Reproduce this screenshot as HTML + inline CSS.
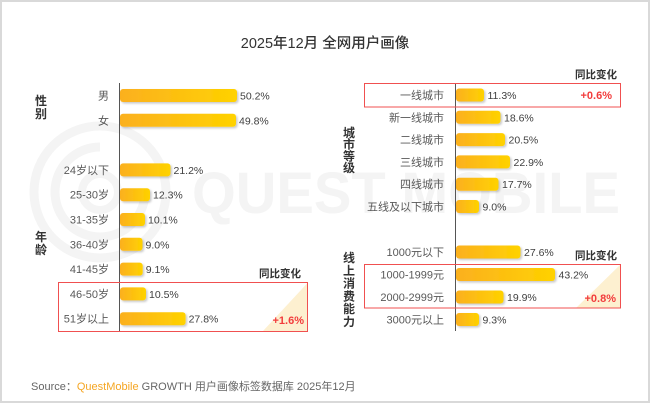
<!DOCTYPE html>
<html><head><meta charset="utf-8"><style>
html,body{margin:0;padding:0;background:#fff;}
svg{display:block;}
text{font-family:"Liberation Sans","Noto Sans CJK SC",sans-serif;}
.lb{font-size:11px;fill:#595959;text-anchor:end;}
.vl{font-size:10.5px;fill:#404040;}
.cat{font-size:12px;fill:#333;font-weight:bold;text-anchor:middle;}
.yoy{font-size:10.5px;fill:#333;font-weight:bold;text-anchor:end;}
.red{font-size:11px;fill:#f23c3c;font-weight:bold;text-anchor:end;}
</style></head><body>
<svg width="650" height="403" viewBox="0 0 650 403" xmlns="http://www.w3.org/2000/svg">
<defs>
<linearGradient id="g" x1="0" y1="0" x2="1" y2="0">
<stop offset="0" stop-color="#fbb01f"/><stop offset="1" stop-color="#ffd200"/>
</linearGradient>
<filter id="sh" x="-10%" y="-30%" width="130%" height="180%">
<feDropShadow dx="1.5" dy="1.5" stdDeviation="1" flood-color="#000" flood-opacity="0.22"/>
</filter>
</defs>
<rect x="0" y="0" width="650" height="403" fill="#fff"/>
<rect x="1" y="1" width="648" height="401" fill="none" stroke="#d9d9d9" stroke-width="2"/>
<!-- watermark -->
<g fill="none" stroke="#f4f4f4">
<circle cx="100" cy="192" r="66" stroke-width="9"/>
<path d="M100 147 A45 45 0 1 0 145 192" stroke-width="9"/>
<circle cx="100" cy="192" r="18" stroke-width="8"/>
</g>
<text x="192" y="213" font-size="58" font-weight="bold" fill="#f4f4f4" textLength="428" lengthAdjust="spacingAndGlyphs">QUEST MOBILE</text>

<text x="325" y="48" font-size="14.5" fill="#333" text-anchor="middle" font-weight="500">2025年12月 全网用户画像</text>

<!-- left axis -->
<line x1="119.5" y1="83" x2="119.5" y2="332" stroke="#555" stroke-width="1"/>
<g filter="url(#sh)" fill="url(#g)">
<rect x="120" y="89" width="117" height="13" rx="3"/>
<rect x="120" y="113.8" width="116" height="13" rx="3"/>
<rect x="120" y="163.4" width="50.5" height="13" rx="3"/>
<rect x="120" y="188.2" width="30" height="13" rx="3"/>
<rect x="120" y="213" width="25" height="13" rx="3"/>
<rect x="120" y="237.8" width="22.5" height="13" rx="3"/>
<rect x="120" y="262.6" width="22.7" height="13" rx="3"/>
<rect x="120" y="287.4" width="26" height="13" rx="3"/>
<rect x="120" y="312.2" width="65.6" height="13" rx="3"/>
</g>
<text class="lb" x="109" y="99.5">男</text>
<text class="lb" x="109" y="124.3">女</text>
<text class="lb" x="109" y="173.9">24岁以下</text>
<text class="lb" x="109" y="198.7">25-30岁</text>
<text class="lb" x="109" y="223.5">31-35岁</text>
<text class="lb" x="109" y="248.3">36-40岁</text>
<text class="lb" x="109" y="273.1">41-45岁</text>
<text class="lb" x="109" y="297.9">46-50岁</text>
<text class="lb" x="109" y="322.7">51岁以上</text>
<text class="vl" x="240" y="99.5">50.2%</text>
<text class="vl" x="239" y="124.3">49.8%</text>
<text class="vl" x="173.5" y="173.9">21.2%</text>
<text class="vl" x="153" y="198.7">12.3%</text>
<text class="vl" x="148" y="223.5">10.1%</text>
<text class="vl" x="145.5" y="248.3">9.0%</text>
<text class="vl" x="145.7" y="273.1">9.1%</text>
<text class="vl" x="149" y="297.9">10.5%</text>
<text class="vl" x="188.6" y="322.7">27.8%</text>
<text class="cat" x="41" y="105">性</text>
<text class="cat" x="41" y="118">别</text>
<text class="cat" x="41" y="241">年</text>
<text class="cat" x="41" y="254">龄</text>
<polygon points="263,331 307.5,283 307.5,331" fill="#fdf0d0"/>
<rect x="58.5" y="282.5" width="249" height="49" fill="none" stroke="#f05050" stroke-width="1"/>
<text class="yoy" x="301" y="277">同比变化</text>
<text class="red" x="304" y="324">+1.6%</text>

<!-- right axis -->
<line x1="455.5" y1="83" x2="455.5" y2="331" stroke="#555" stroke-width="1"/>
<g filter="url(#sh)" fill="url(#g)">
<rect x="456" y="88.5" width="28" height="13" rx="3"/>
<rect x="456" y="110.8" width="44.5" height="13" rx="3"/>
<rect x="456" y="133.1" width="49" height="13" rx="3"/>
<rect x="456" y="155.4" width="54" height="13" rx="3"/>
<rect x="456" y="177.7" width="42.5" height="13" rx="3"/>
<rect x="456" y="200" width="23" height="13" rx="3"/>
<rect x="456" y="245.5" width="64.5" height="13" rx="3"/>
<rect x="456" y="268" width="99" height="13" rx="3"/>
<rect x="456" y="290.5" width="47.5" height="13" rx="3"/>
<rect x="456" y="313" width="23" height="13" rx="3"/>
</g>
<text class="lb" x="444" y="99">一线城市</text>
<text class="lb" x="444" y="121.3">新一线城市</text>
<text class="lb" x="444" y="143.6">二线城市</text>
<text class="lb" x="444" y="165.9">三线城市</text>
<text class="lb" x="444" y="188.2">四线城市</text>
<text class="lb" x="444" y="210.5">五线及以下城市</text>
<text class="lb" x="444" y="256">1000元以下</text>
<text class="lb" x="444" y="278.5">1000-1999元</text>
<text class="lb" x="444" y="301">2000-2999元</text>
<text class="lb" x="444" y="323.5">3000元以上</text>
<text class="vl" x="487.5" y="99">11.3%</text>
<text class="vl" x="504" y="121.3">18.6%</text>
<text class="vl" x="508.5" y="143.6">20.5%</text>
<text class="vl" x="513.5" y="165.9">22.9%</text>
<text class="vl" x="502" y="188.2">17.7%</text>
<text class="vl" x="482.5" y="210.5">9.0%</text>
<text class="vl" x="524" y="256">27.6%</text>
<text class="vl" x="558.5" y="278.5">43.2%</text>
<text class="vl" x="507" y="301">19.9%</text>
<text class="vl" x="482.5" y="323.5">9.3%</text>
<text class="cat" x="349" y="137">城</text>
<text class="cat" x="349" y="148.7">市</text>
<text class="cat" x="349" y="160.4">等</text>
<text class="cat" x="349" y="172.1">级</text>
<text class="cat" x="349" y="262">线</text>
<text class="cat" x="349" y="274.8">上</text>
<text class="cat" x="349" y="287.6">消</text>
<text class="cat" x="349" y="300.4">费</text>
<text class="cat" x="349" y="313.2">能</text>
<text class="cat" x="349" y="326">力</text>
<rect x="364.5" y="83.5" width="256" height="23.5" fill="none" stroke="#f05050" stroke-width="1"/>
<text class="yoy" x="617" y="78">同比变化</text>
<text class="red" x="612" y="99">+0.6%</text>
<polygon points="576,308 620.5,264.5 620.5,308" fill="#fdf0d0"/>
<rect x="364.5" y="264.5" width="256" height="43.5" fill="none" stroke="#f05050" stroke-width="1"/>
<text class="yoy" x="617" y="259">同比变化</text>
<text class="red" x="616" y="302">+0.8%</text>

<!-- source -->
<text x="31" y="390" font-size="11" fill="#666">Source：<tspan fill="#f5a623">QuestMobile</tspan> GROWTH 用户画像标签数据库 2025年12月</text>
</svg>
</body></html>
